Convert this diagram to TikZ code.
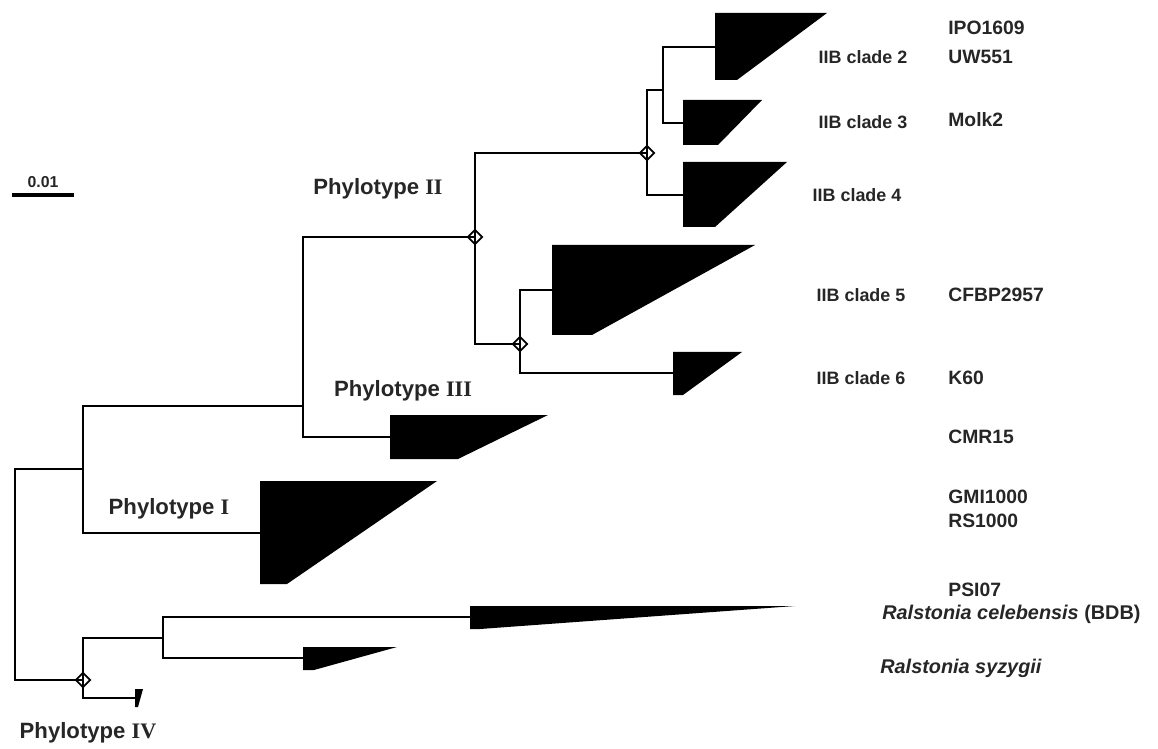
\documentclass[tikz,border=0pt]{standalone}
\usepackage{fontspec}
\setmainfont{Liberation Sans}
\newfontfamily\numfont{Liberation Serif}
\usetikzlibrary{shapes.geometric}

\newcommand{\ptype}[1]{Phylotype {\numfont\bfseries #1}}

\begin{document}
\begin{tikzpicture}[
  x=0.02cm, y=-0.02cm,
  branch/.style={line width=1.3pt},
  wedge/.style={fill=black},
  support/.style={diamond, draw, line width=1pt, inner sep=0pt, minimum size=0.3cm},
  strain/.style={anchor=west, inner sep=0pt, font=\bfseries\fontsize{11}{13}\selectfont, text=black!85},
  cladelab/.style={inner sep=0pt, font=\bfseries\fontsize{10.2}{12}\selectfont, text=black!85},
  phylo/.style={inner sep=0pt, font=\bfseries\fontsize{12.6}{14}\selectfont, text=black!85}
]
\useasboundingbox (0,0) rectangle (1158,749);

% inner nodes of the tree
\coordinate (root) at (15,575);
\coordinate (n1) at (83,469);
\coordinate (n2) at (303,406);
\coordinate (n3) at (475,237);
\coordinate (n5) at (647,153);
\coordinate (n7) at (663,90);
\coordinate (n6) at (520,344);
\coordinate (n4) at (83,680);
\coordinate (n8) at (163,638);

% leaves (left edge of each wedge)
\coordinate (c2) at (715,47);
\coordinate (c3) at (683,123);
\coordinate (c4) at (683,195);
\coordinate (c5) at (552,290);
\coordinate (c6) at (673,373);
\coordinate (pIII) at (390,437);
\coordinate (pI) at (260,533);
\coordinate (cel) at (470,617);
\coordinate (syz) at (303,658);
\coordinate (pIV) at (136,698);

% wedges
\fill[wedge] (715,13) -- (827,13) -- (737,80) -- (715,80) -- cycle;
\fill[wedge] (683,100) -- (762,100) -- (718,145) -- (683,145) -- cycle;
\fill[wedge] (683,162) -- (787,162) -- (715,227) -- (683,227) -- cycle;
\fill[wedge] (552,245) -- (755,245) -- (592,335) -- (552,335) -- cycle;
\fill[wedge] (673,352) -- (742,352) -- (683,395) -- (673,395) -- cycle;
\fill[wedge] (390,415) -- (548,415) -- (458,459) -- (390,459) -- cycle;
\fill[wedge] (260,481) -- (437,481) -- (287,584) -- (260,584) -- cycle;
\fill[wedge] (470,606) -- (795,606) -- (480,629) -- (470,629) -- cycle;
\fill[wedge] (303,647) -- (397,647) -- (314,670) -- (303,670) -- cycle;
\fill[wedge] (135,689) -- (143,689) -- (138,707) -- (135,707) -- cycle;

% branches
\draw[branch] (root) |- (n1);
\draw[branch] (root) |- (n4);
\draw[branch] (n1) |- (n2);
\draw[branch] (n1) |- (pI);
\draw[branch] (n2) |- (n3);
\draw[branch] (n2) |- (pIII);
\draw[branch] (n3) |- (n5);
\draw[branch] (n3) |- (n6);
\draw[branch] (n5) |- (n7);
\draw[branch] (n5) |- (c4);
\draw[branch] (n7) |- (c2);
\draw[branch] (n7) |- (c3);
\draw[branch] (n6) |- (c5);
\draw[branch] (n6) |- (c6);
\draw[branch] (n4) |- (n8);
\draw[branch] (n4) |- (pIV);
\draw[branch] (n8) |- (cel);
\draw[branch] (n8) |- (syz);

% bootstrap diamonds
\node[support] (d3) at (n3) {};
\node[support] (d5) at (n5) {};
\node[support] (d6) at (n6) {};
\node[support] (d4) at (n4) {};

% scale bar
\coordinate (sbl) at (12,195);
\coordinate (sbr) at (74,195);
\draw[line width=2.2pt] (sbl) -- (sbr);
\node[inner sep=0pt, font=\bfseries\fontsize{9}{10}\selectfont, text=black!85] (sbt) at (43,182) {0.01};

% phylotype labels
\node[phylo] (lII) at (378,189) {\ptype{II}};
\node[phylo] (lIII) at (403,391) {\ptype{III}};
\node[phylo] (lI) at (169,509) {\ptype{I}};
\node[phylo] (lIV) at (88,733) {\ptype{IV}};

% clade labels
\node[cladelab] (k2) at (863,57) {IIB clade 2};
\node[cladelab] (k3) at (863,122) {IIB clade 3};
\node[cladelab] (k4) at (857,195) {IIB clade 4};
\node[cladelab] (k5) at (861,295) {IIB clade 5};
\node[cladelab] (k6) at (861,378) {IIB clade 6};

% strain labels
\node[strain] (s1) at (948,28) {IPO1609};
\node[strain] (s2) at (948,57) {UW551};
\node[strain] (s3) at (948,120) {Molk2};
\node[strain] (s4) at (948,295) {CFBP2957};
\node[strain] (s5) at (948,378) {K60};
\node[strain] (s6) at (948,437) {CMR15};
\node[strain] (s7) at (948,497) {GMI1000};
\node[strain] (s8) at (948,521) {RS1000};
\node[strain] (s9) at (948,590) {PSI07};
\node[strain, font=\bfseries\fontsize{11.3}{13}\selectfont] (s10) at (882,614) {\itshape Ralstonia celebensis \upshape(BDB)};
\node[strain, font=\bfseries\fontsize{11.3}{13}\selectfont] (s11) at (880,668) {\itshape Ralstonia syzygii};
\end{tikzpicture}
\end{document}
